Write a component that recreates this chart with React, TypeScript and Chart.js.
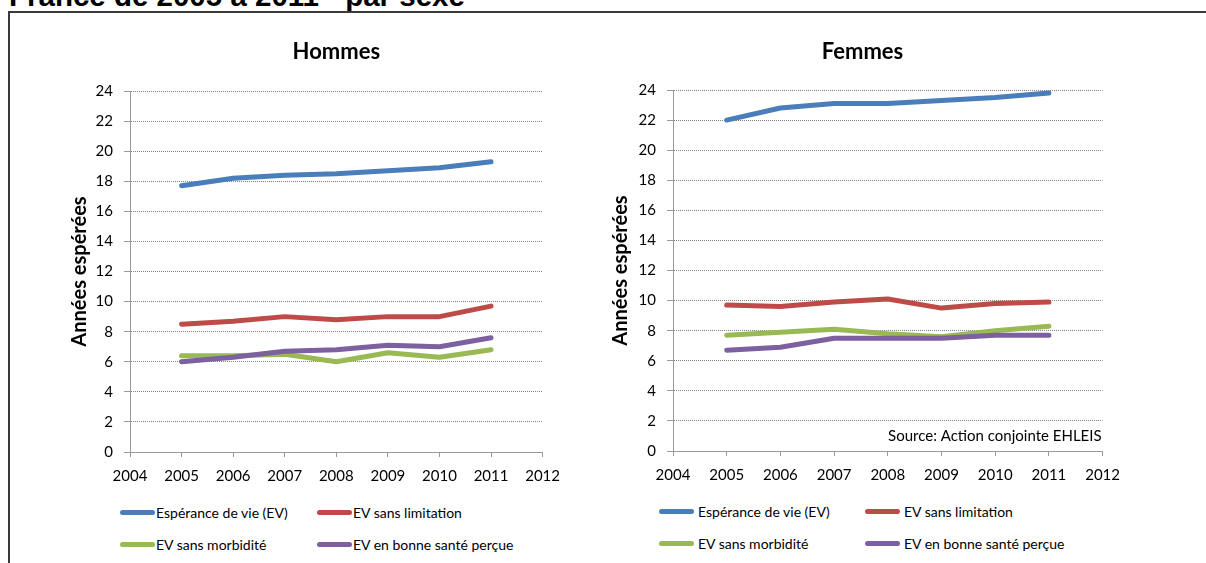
import React, { useEffect, useRef } from "react";
import { Chart, registerables } from "chart.js";

Chart.register(...registerables);

const FONT = "Lato, 'Open Sans', sans-serif";

// ---- Data ----
const pageTitle = "France de 2005 à 2011 - par sexe";
const panelTitles = ["Hommes", "Femmes"];
const yAxisTitle = "Années espérées";
const sourceText = "Source: Action conjointe EHLEIS";
const years = [2005, 2006, 2007, 2008, 2009, 2010, 2011];
const xMin = 2004;
const xMax = 2012;
const yMin = 0;
const yMax = 24;
const yStep = 2;
const seriesNames = [
  "Espérance de vie (EV)",
  "EV sans limitation",
  "EV sans morbidité",
  "EV en bonne santé perçue",
];
const seriesColors = ["#4A7EBB", "#BE4B48", "#98B954", "#7D60A0"];

const hommesEV = [17.7, 18.2, 18.4, 18.5, 18.7, 18.9, 19.3];
const hommesSansLimitation = [8.5, 8.7, 9.0, 8.8, 9.0, 9.0, 9.7];
const hommesSansMorbidite = [6.4, 6.4, 6.5, 6.0, 6.6, 6.3, 6.8];
const hommesBonneSante = [6.0, 6.3, 6.7, 6.8, 7.1, 7.0, 7.6];

const femmesEV = [22.0, 22.8, 23.1, 23.1, 23.3, 23.5, 23.8];
const femmesSansLimitation = [9.7, 9.6, 9.9, 10.1, 9.5, 9.8, 9.9];
const femmesSansMorbidite = [7.7, 7.9, 8.1, 7.8, 7.6, 8.0, 8.3];
const femmesBonneSante = [6.7, 6.9, 7.5, 7.5, 7.5, 7.7, 7.7];

// ---- Layout ----
type PanelLayout = {
  left: number;
  top: number;
  width: number;
  height: number;
  padL: number;
  padR: number;
  yWidth: number;
  xHeight: number;
  titleTop: number;
  titleBottom: number;
  yTitlePad: number;
  fullSizeTitle: boolean;
  legendCols: number[];
  legendTextGap: number;
  legendRows: number[];
};

const leftLayout: PanelLayout = {
  left: 60,
  top: 30,
  width: 510,
  height: 470,
  padL: 5,
  padR: 22,
  yWidth: 65,
  xHeight: 48,
  titleTop: 9,
  titleBottom: 25.6,
  yTitlePad: 3,
  fullSizeTitle: false,
  legendCols: [120, 317],
  legendTextGap: 36,
  legendRows: [512, 544],
};

const rightLayout: PanelLayout = {
  left: 600,
  top: 30,
  width: 530,
  height: 470,
  padL: 22,
  padR: 27,
  yWidth: 51,
  xHeight: 49,
  titleTop: 9,
  titleBottom: 24.6,
  yTitlePad: -13,
  fullSizeTitle: true,
  legendCols: [659, 865],
  legendTextGap: 39,
  legendRows: [511, 543],
};

function buildDatasets(values: number[][]) {
  return values.map((vals, i) => ({
    label: seriesNames[i],
    data: years.map((yr, j) => ({ x: yr, y: vals[j] })),
    borderColor: seriesColors[i],
    backgroundColor: seriesColors[i],
    borderWidth: 5,
    pointRadius: 0,
    pointHoverRadius: 0,
    tension: 0,
    fill: false,
    borderJoinStyle: "round" as const,
    borderCapStyle: "round" as const,
    order: values.length - 1 - i,
  }));
}

const sourcePlugin = {
  id: "sourceNote",
  afterDraw(chart: any) {
    const { ctx, chartArea } = chart;
    ctx.save();
    ctx.font = `15px ${FONT}`;
    ctx.fillStyle = "#000";
    ctx.textAlign = "right";
    ctx.textBaseline = "middle";
    ctx.fillText(sourceText, chartArea.right - 1, chartArea.bottom - 15);
    ctx.restore();
  },
};

function makeConfig(title: string, values: number[][], L: PanelLayout, withSource: boolean): any {
  return {
    type: "line",
    data: { datasets: buildDatasets(values) },
    plugins: withSource ? [sourcePlugin] : [],
    options: {
      animation: false,
      responsive: false,
      maintainAspectRatio: false,
      events: [],
      layout: { padding: { left: L.padL, right: L.padR, top: 0, bottom: 0 } },
      plugins: {
        legend: { display: false },
        tooltip: { enabled: false },
        title: {
          display: true,
          text: title,
          fullSize: L.fullSizeTitle,
          color: "#000",
          font: { family: FONT, size: 22, weight: "bold" },
          padding: { top: L.titleTop, bottom: L.titleBottom },
        },
      },
      scales: {
        x: {
          type: "linear",
          min: xMin,
          max: xMax,
          ticks: {
            stepSize: 1,
            autoSkip: false,
            maxRotation: 0,
            padding: 10,
            color: "#000",
            font: { family: FONT, size: 15 },
            callback: (v: number) => String(v),
          },
          grid: {
            drawOnChartArea: false,
            drawTicks: true,
            tickLength: 5,
            tickColor: "#9a9a9a",
            color: "#9a9a9a",
          },
          border: { display: true, color: "#9a9a9a", width: 1 },
          afterFit: (s: any) => {
            s.height = L.xHeight;
          },
        },
        y: {
          min: yMin,
          max: yMax,
          ticks: {
            stepSize: yStep,
            padding: 11,
            color: "#000",
            font: { family: FONT, size: 15 },
          },
          grid: {
            color: "#808080",
            lineWidth: 1,
            tickLength: 6,
            tickColor: "#9a9a9a",
            tickBorderDash: [],
          },
          border: { display: true, color: "#9a9a9a", width: 1, dash: [1, 1] },
          title: {
            display: true,
            text: yAxisTitle,
            color: "#000",
            font: { family: FONT, size: 20, weight: "bold" },
            padding: { top: L.yTitlePad, bottom: 4 },
          },
          afterFit: (s: any) => {
            s.width = L.yWidth;
          },
        },
      },
    },
  };
}

function Panel({ title, values, L, withSource }: { title: string; values: number[][]; L: PanelLayout; withSource: boolean }) {
  const ref = useRef<HTMLCanvasElement>(null);
  useEffect(() => {
    const chart = new Chart(ref.current as HTMLCanvasElement, makeConfig(title, values, L, withSource));
    return () => chart.destroy();
  }, []);
  return (
    <canvas
      ref={ref}
      width={L.width}
      height={L.height}
      style={{ position: "absolute", left: L.left, top: L.top, width: L.width, height: L.height }}
    />
  );
}

function Legend({ L }: { L: PanelLayout }) {
  return (
    <>
      {seriesNames.map((name, i) => {
        const col = i % 2;
        const row = Math.floor(i / 2);
        const x = L.legendCols[col];
        const cy = L.legendRows[row];
        return (
          <div
            key={name}
            style={{
              position: "absolute",
              left: x,
              top: cy - 10,
              height: 20,
              display: "flex",
              alignItems: "center",
              whiteSpace: "nowrap",
              fontFamily: FONT,
              fontSize: 14,
              color: "#000",
            }}
          >
            <div
              style={{
                width: 35,
                height: 5,
                borderRadius: 3,
                background: seriesColors[i],
                marginRight: L.legendTextGap - 35,
                flex: "none",
              }}
            />
            <span>{name}</span>
          </div>
        );
      })}
    </>
  );
}

export default function App() {
  return (
    <div
      style={{
        position: "fixed",
        left: 0,
        top: 0,
        width: 1206,
        height: 563,
        overflow: "hidden",
        background: "#fff",
      }}
    >
      <div
        style={{
          position: "absolute",
          left: 9,
          top: -19.5,
          fontFamily: "'Liberation Sans', Arial, sans-serif",
          fontWeight: "bold",
          fontSize: 29.5,
          lineHeight: "29px",
          color: "#000",
          whiteSpace: "nowrap",
        }}
      >
        {pageTitle}
      </div>
      <div
        style={{
          position: "absolute",
          left: 8,
          top: 11,
          width: 1400,
          height: 800,
          border: "2px solid #3a3a3a",
          boxSizing: "border-box",
        }}
      />
      <Panel
        title={panelTitles[0]}
        values={[hommesEV, hommesSansLimitation, hommesSansMorbidite, hommesBonneSante]}
        L={leftLayout}
        withSource={false}
      />
      <Panel
        title={panelTitles[1]}
        values={[femmesEV, femmesSansLimitation, femmesSansMorbidite, femmesBonneSante]}
        L={rightLayout}
        withSource={true}
      />
      <Legend L={leftLayout} />
      <Legend L={rightLayout} />
    </div>
  );
}
